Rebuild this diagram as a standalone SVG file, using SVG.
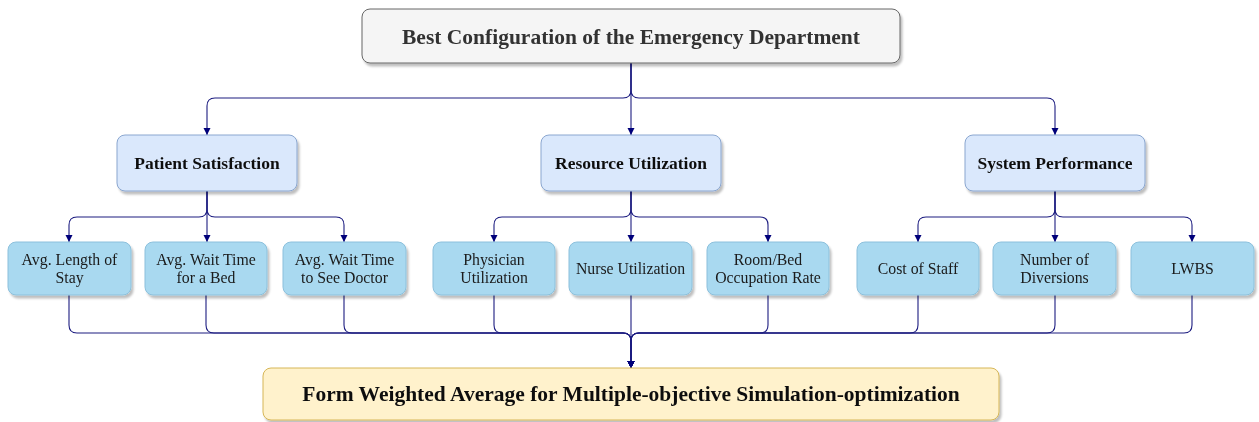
<svg xmlns="http://www.w3.org/2000/svg" width="1259" height="422" viewBox="0 0 1259 422">
<style>
.box{filter:url(#sh);}
.top{fill:#f5f5f5;stroke:#666666;stroke-width:1;}
.l2{fill:#dae8fc;stroke:#8aa6cf;stroke-width:1;}
.l3{fill:#a9d9f0;stroke:#8cc0dc;stroke-width:1;}
.res{fill:#fff2cc;stroke:#d6b656;stroke-width:1;}
text{font-family:"Liberation Serif","Times New Roman",serif;text-anchor:middle;}
.tt{font-size:21.5px;font-weight:bold;fill:#333333;}
.t2{font-size:17.5px;font-weight:bold;fill:#111111;}
.t3{font-size:15.8px;fill:#1a1a1a;}
.tr{font-size:21.5px;font-weight:bold;fill:#111111;}
.edge{fill:none;stroke:#1c1c80;stroke-width:1.1;}
.arr{marker-end:url(#ah);}
</style>
<defs>
<filter id="sh" x="-10%" y="-20%" width="120%" height="150%">
<feDropShadow dx="2" dy="3" stdDeviation="1.2" flood-color="#000000" flood-opacity="0.25"/>
</filter>
<marker id="ah" markerUnits="userSpaceOnUse" markerWidth="8" markerHeight="8" viewBox="0 0 8 8" refX="7" refY="4" orient="auto">
<path d="M0,0.5 L7,4 L0,7.5 Z" fill="#00007a"/>
</marker>
</defs>
<g id="connectors">
<path class="edge arr" d="M631,63 V90 Q631,98 623,98 H215 Q207,98 207,106 V135"/>
<path class="edge arr" d="M631,63 V135"/>
<path class="edge arr" d="M631,63 V90 Q631,98 639,98 H1047 Q1055,98 1055,106 V135"/>
<path class="edge arr" d="M207,191 V209 Q207,217 199,217 H77 Q69,217 69,225 V242"/>
<path class="edge arr" d="M207,191 V242"/>
<path class="edge arr" d="M207,191 V209 Q207,217 215,217 H336 Q344,217 344,225 V242"/>
<path class="edge arr" d="M631,191 V209 Q631,217 623,217 H502 Q494,217 494,225 V242"/>
<path class="edge arr" d="M631,191 V242"/>
<path class="edge arr" d="M631,191 V209 Q631,217 639,217 H760 Q768,217 768,225 V242"/>
<path class="edge arr" d="M1055,191 V209 Q1055,217 1047,217 H926 Q918,217 918,225 V242"/>
<path class="edge arr" d="M1055,191 V242"/>
<path class="edge arr" d="M1055,191 V209 Q1055,217 1063,217 H1184 Q1192,217 1192,225 V242"/>
<path class="edge arr" d="M69,295 V325 Q69,333 77,333 H623 Q631,333 631,341 V368"/>
<path class="edge arr" d="M206,295 V325 Q206,333 214,333 H623 Q631,333 631,341 V368"/>
<path class="edge arr" d="M344,295 V325 Q344,333 352,333 H623 Q631,333 631,341 V368"/>
<path class="edge arr" d="M494,295 V325 Q494,333 502,333 H623 Q631,333 631,341 V368"/>
<path class="edge arr" d="M631,295 V368"/>
<path class="edge arr" d="M768,295 V325 Q768,333 760,333 H639 Q631,333 631,341 V368"/>
<path class="edge arr" d="M918,295 V325 Q918,333 910,333 H639 Q631,333 631,341 V368"/>
<path class="edge arr" d="M1055,295 V325 Q1055,333 1047,333 H639 Q631,333 631,341 V368"/>
<path class="edge arr" d="M1192,295 V325 Q1192,333 1184,333 H639 Q631,333 631,341 V368"/>
</g>
<g id="best-config" class="box"><rect class="top" x="362" y="9" width="538" height="54" rx="8"/><text class="tt" x="631" y="44">Best Configuration of the Emergency Department</text></g>
<g id="patient-satisfaction" class="box"><rect class="l2" x="117" y="135" width="180" height="56" rx="8"/><text class="t2" x="207" y="169">Patient Satisfaction</text></g>
<g id="resource-utilization" class="box"><rect class="l2" x="541" y="135" width="180" height="56" rx="8"/><text class="t2" x="631" y="169">Resource Utilization</text></g>
<g id="system-performance" class="box"><rect class="l2" x="965" y="135" width="180" height="56" rx="8"/><text class="t2" x="1055" y="169">System Performance</text></g>
<g id="avg-length-of-stay" class="box"><rect class="l3" x="8" y="242" width="123" height="53" rx="8"/><text class="t3" x="69.5" y="265">Avg. Length of</text><text class="t3" x="69.5" y="283">Stay</text></g>
<g id="avg-wait-bed" class="box"><rect class="l3" x="145" y="242" width="122" height="53" rx="8"/><text class="t3" x="206" y="265">Avg. Wait Time</text><text class="t3" x="206" y="283">for a Bed</text></g>
<g id="avg-wait-doctor" class="box"><rect class="l3" x="283" y="242" width="123" height="53" rx="8"/><text class="t3" x="344.5" y="265">Avg. Wait Time</text><text class="t3" x="344.5" y="283">to See Doctor</text></g>
<g id="physician-utilization" class="box"><rect class="l3" x="433" y="242" width="122" height="53" rx="8"/><text class="t3" x="494" y="265">Physician</text><text class="t3" x="494" y="283">Utilization</text></g>
<g id="nurse-utilization" class="box"><rect class="l3" x="569" y="242" width="123" height="53" rx="8"/><text class="t3" x="630.5" y="274">Nurse Utilization</text></g>
<g id="room-bed-occupation" class="box"><rect class="l3" x="707" y="242" width="122" height="53" rx="8"/><text class="t3" x="768" y="265">Room/Bed</text><text class="t3" x="768" y="283">Occupation Rate</text></g>
<g id="cost-of-staff" class="box"><rect class="l3" x="857" y="242" width="122" height="53" rx="8"/><text class="t3" x="918" y="274">Cost of Staff</text></g>
<g id="number-of-diversions" class="box"><rect class="l3" x="993" y="242" width="123" height="53" rx="8"/><text class="t3" x="1054.5" y="265">Number of</text><text class="t3" x="1054.5" y="283">Diversions</text></g>
<g id="lwbs" class="box"><rect class="l3" x="1131" y="242" width="123" height="53" rx="8"/><text class="t3" x="1192.5" y="274">LWBS</text></g>
<g id="weighted-average" class="box"><rect class="res" x="263" y="368" width="736" height="52" rx="8"/><text class="tr" x="631" y="401">Form Weighted Average for Multiple-objective Simulation-optimization</text></g>
</svg>
